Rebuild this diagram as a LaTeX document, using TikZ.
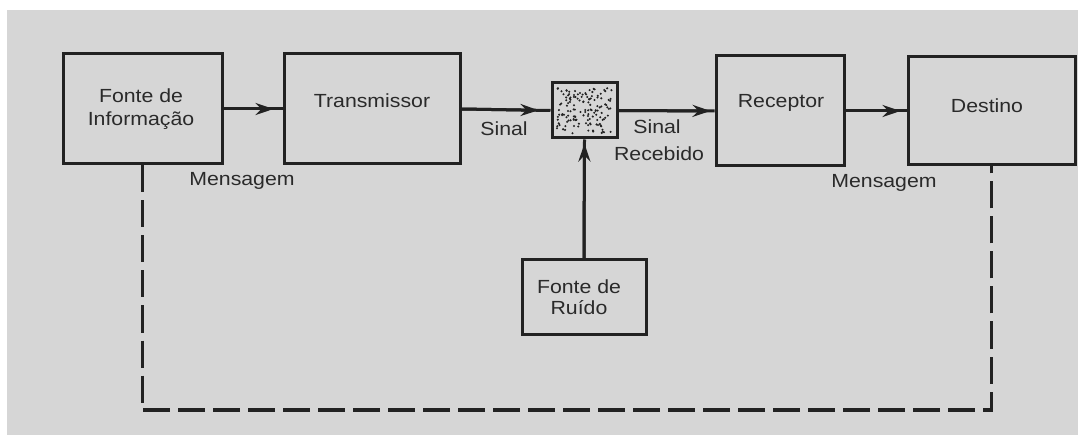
\documentclass[tikz,border=0pt]{standalone}
\usepackage{fontspec}
\setmainfont{Liberation Sans}[FakeStretch=1.12]
\usetikzlibrary{arrows.meta}
\definecolor{bg}{HTML}{D6D6D6}
\definecolor{ink}{HTML}{222222}
\definecolor{txt}{HTML}{2A2A2A}
\begin{document}
\begin{tikzpicture}[x=1pt,y=-1pt,
  box/.style={draw=ink, line width=3pt, inner sep=0pt},
  lbl/.style={text=txt, font=\fontsize{19}{23}\selectfont, inner sep=0pt},
  conn/.style={draw=ink, line width=3pt},
  tip/.style={-{Stealth[length=18pt,width=12pt,inset=6pt]}},
  fb/.style={draw=ink, line width=3.5pt, dash pattern=on 27pt off 8pt},
]
\useasboundingbox (0,0) rectangle (1078,435);
\fill[white] (0,0) rectangle (1078,435);
\fill[bg] (7,10) rectangle (1078,435);

% boxes
\node[box, minimum width=159pt, minimum height=110pt] (fonte) at (142.5,109) {};
\node[box, minimum width=176pt, minimum height=110pt] (tx) at (372,109) {};
\node[box, minimum width=65pt, minimum height=55pt] (noise) at (584.5,110.5) {};
\node[box, minimum width=128pt, minimum height=110pt] (rec) at (780,111) {};
\node[box, minimum width=167pt, minimum height=108pt] (dest) at (991.5,111) {};
\node[box, minimum width=124pt, minimum height=74pt] (ruido) at (584,297) {};

% noise stipple
\pgfmathsetseed{11}
\foreach \i in {1,...,140}{
  \pgfmathsetmacro\rx{557+rnd*55}
  \pgfmathsetmacro\ry{88+rnd*46}
  \fill[ink] (\rx,\ry) circle (1.15pt);
}

% box texts
\node[lbl, align=center] (tfonte) at (141,109.5) {Fonte de\\Informação};
\node[lbl, anchor=base] (ttx) at (372,108) {Transmissor};
\node[lbl, anchor=base] (trec) at (781,108) {Receptor};
\node[lbl, anchor=base] (tdest) at (987,113) {Destino};
\node[lbl, align=center] (truido) at (579,297) {Fonte de\\[-2pt]Ruído};

% labels
\node[lbl, anchor=base] (mens1) at (242,186) {Mensagem};
\node[lbl, anchor=base] (sin1) at (504,136) {Sinal};
\node[lbl, anchor=base] (sin2) at (657,134) {Sinal};
\node[lbl, anchor=base] (receb) at (659,161) {Recebido};
\node[lbl, anchor=base] (mens2) at (884,188) {Mensagem};

% connectors
\draw[conn] (fonte.east) -- (tx.west);
\draw[conn, tip, shorten >=9pt] (fonte.east) -- (tx.west);
\draw[conn] (tx.east) -- (noise.west);
\draw[conn, tip, shorten >=12pt] (tx.east) -- (noise.west);
\draw[conn] (noise.east) -- (rec.west);
\draw[conn, tip, shorten >=4pt] (noise.east) -- (rec.west);
\draw[conn] (rec.east) -- (dest.west);
\draw[conn, tip, shorten >=6pt] (rec.east) -- (dest.west);
\draw[conn] (ruido.north) -- (noise.south);
\draw[conn, tip, shorten >=4pt] (ruido.north) -- (noise.south);

% feedback dashed
\coordinate (br) at (991.5,410);
\draw[fb] (fonte.south) |- (br) -- (dest.south);
\end{tikzpicture}
\end{document}
